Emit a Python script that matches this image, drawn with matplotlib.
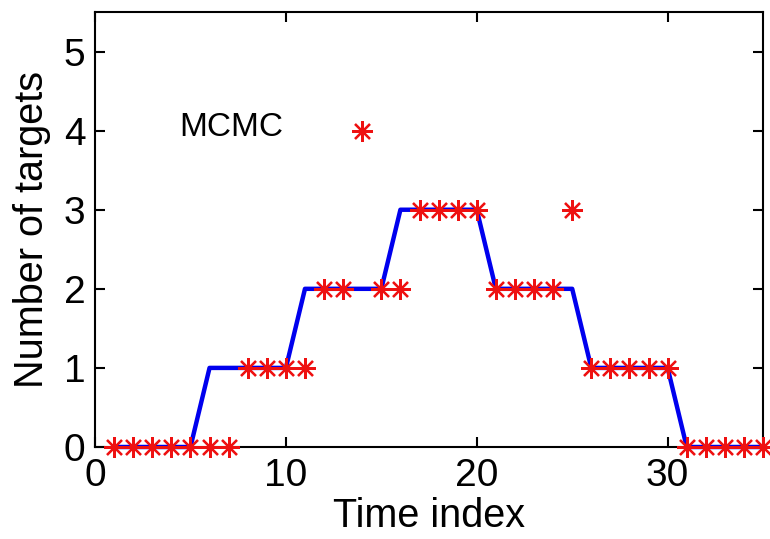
import matplotlib
matplotlib.use("Agg")
import matplotlib.pyplot as plt

time_index = list(range(1, 36))
true_targets = [0]*5 + [1]*5 + [2]*5 + [3]*5 + [2]*5 + [1]*5 + [0]*5
mcmc_estimate = ([0]*7 + [1]*4 + [2, 2, 4, 2, 2] + [3]*4 + [2]*4 + [3]
                 + [1]*5 + [0]*5)

plt.rcParams['font.family'] = ['Liberation Sans', 'DejaVu Sans']

fig = plt.figure(figsize=(7.7, 5.39), dpi=100)
ax = fig.add_axes([0.1234, 0.1707, 0.8676, 0.807])

ax.plot(time_index, true_targets, color='#0000ee', linewidth=3.2, zorder=2,
        clip_on=False)
ax.plot(time_index, mcmc_estimate, linestyle='none', marker=(8, 2, 0),
        markersize=15, markeredgewidth=1.6, color='#ee1111',
        markeredgecolor='#ee1111', zorder=3, clip_on=False)

ax.text(4.4, 4.04, 'MCMC', fontsize=24, ha='left', va='center')

ax.set_xlim(0, 35)
ax.set_ylim(0, 5.5)
ax.set_xticks([0, 10, 20, 30])
ax.set_yticks([0, 1, 2, 3, 4, 5])
ax.tick_params(direction='in', length=7, width=1.5, labelsize=28,
               top=True, right=True)
ax.tick_params(axis='x', pad=8)
ax.tick_params(axis='y', pad=7)
for s in ax.spines.values():
    s.set_linewidth(1.5)

ax.set_xlabel('Time index', fontsize=28.5, labelpad=2)
ax.set_ylabel('Number of targets', fontsize=28.5, labelpad=9)

fig.savefig('out.png', dpi=100)
